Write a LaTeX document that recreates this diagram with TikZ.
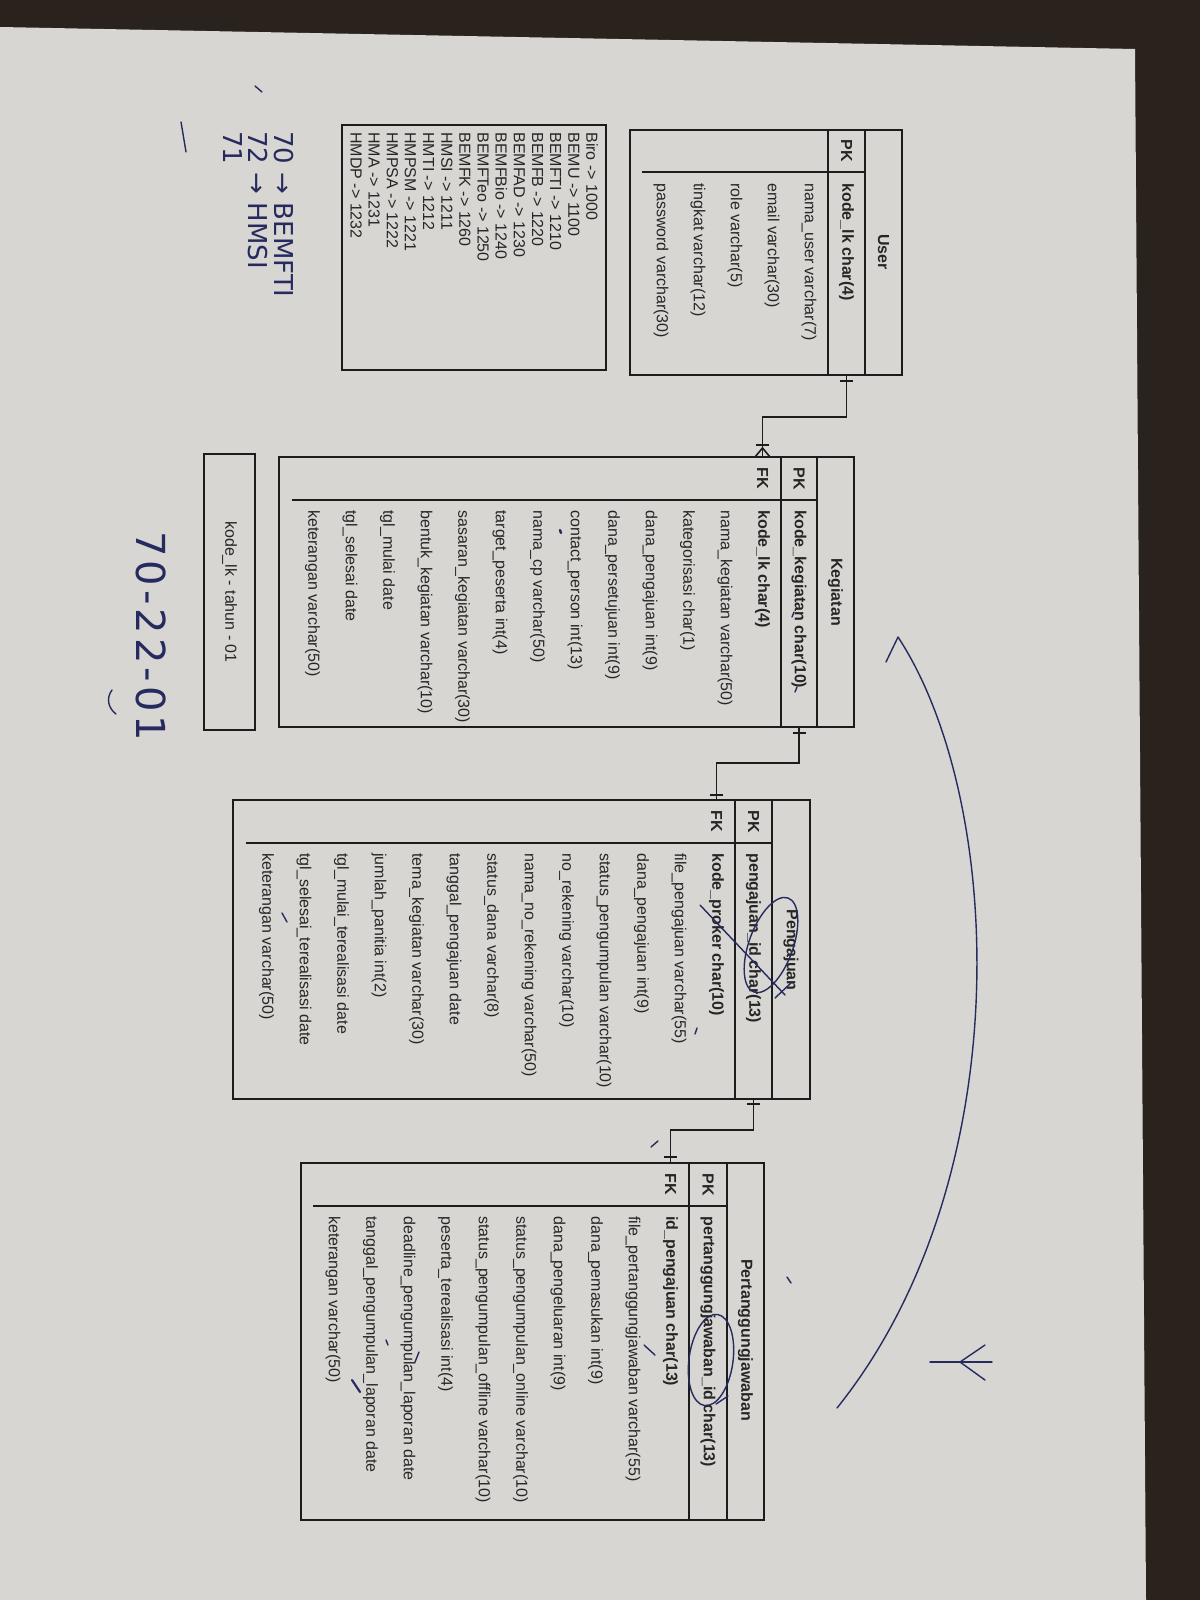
\documentclass[tikz,border=0pt]{standalone}
\usepackage{fontspec}
\setmainfont{Liberation Sans}
\newfontfamily\hand{DejaVu Sans}
\newfontfamily\handwide[LetterSpace=10]{DejaVu Sans}
\usetikzlibrary{fit}
\definecolor{paper}{HTML}{D7D6D3}
\definecolor{darkbg}{HTML}{2A221D}
\definecolor{ink}{HTML}{262626}
\definecolor{rule}{HTML}{1C1C1C}
\definecolor{pen}{HTML}{262A5E}
\tikzset{
  attr/.style={rotate=-90, anchor=west, inner sep=0pt, text=ink, font=\fontsize{8}{9}\selectfont},
  keyattr/.style={attr, font=\fontsize{8}{9}\selectfont\bfseries},
  keylbl/.style={rotate=-90, anchor=center, inner sep=0pt, text=ink, font=\fontsize{8}{9}\selectfont\bfseries},
  hdr/.style={keylbl},
  tbox/.style={draw=rule, line width=0.8pt, inner sep=0pt},
  rl/.style={draw=rule, line width=0.8pt},
  conn/.style={draw=rule, line width=0.8pt},
  hw/.style={rotate=-90, anchor=west, inner sep=0pt, text=pen, font=\hand\fontsize{13}{14}\selectfont},
  inkstroke/.style={draw=pen, line width=0.7pt, line cap=round, line join=round},
}
\begin{document}
\begin{tikzpicture}[x=0.5pt,y=-0.5pt]
\fill[darkbg] (0,0) rectangle (1200,1600);
\fill[paper] (0,27) -- (1135,49) -- (1146,1600) -- (0,1600) -- cycle;
\useasboundingbox (0,0) rectangle (1200,1600);

% ---------- User ----------
\coordinate (uTL) at (630,130); \coordinate (uBR) at (902,375);
\node[tbox, fit=(uTL)(uBR)] (user) {};
\draw[rl] (865,130) -- (865,375);
\draw[rl] (828,130) -- (828,375);
\draw[rl] (642,172) -- (865,172);
\node[hdr] (userH) at (883.5,252) {User};
\node[keylbl] (userPKl) at (846.5,151) {PK};
\node[keyattr] (userPK) at (846.5,183) {kode\_lk char(4)};
\foreach \t [count=\i from 0] in {nama\_user varchar(7), email varchar(30), role varchar(5), tingkat varchar(12), password varchar(30)}{
  \pgfmathsetmacro\xx{809-37*\i}
  \node[attr] (userA\i) at (\xx,183) {\t};
}

% ---------- Notes ----------
\coordinate (nTL) at (342,125); \coordinate (nBR) at (606,370);
\node[tbox, fit=(nTL)(nBR)] (notes) {};
\foreach \t [count=\i from 0] in {Biro -> 1000, BEMU -> 1100, BEMFTI -> 1210, BEMFB -> 1220, BEMFAD -> 1230, BEMFBio -> 1240, BEMFTeo -> 1250, BEMFK -> 1260, HMSI -> 1211, HMTI -> 1212, HMPSM -> 1221, HMPSA -> 1222, HMA -> 1231, HMDP -> 1232}{
  \pgfmathsetmacro\xx{592-18.15*\i}
  \node[attr] (note\i) at (\xx,132) {\t};
}

% ---------- Kegiatan ----------
\coordinate (kTL) at (279,457); \coordinate (kBR) at (854,727);
\node[tbox, fit=(kTL)(kBR)] (keg) {};
\draw[rl] (817,457) -- (817,727);
\draw[rl] (781,457) -- (781,727);
\draw[rl] (292,500) -- (817,500);
\node[hdr] (kegH) at (835.5,592) {Kegiatan};
\node[keylbl] (kegPKl) at (799,478.5) {PK};
\node[keylbl] (kegFKl) at (762.5,478.5) {FK};
\node[keyattr] (kegPK) at (799,510) {kode\_kegiatan char(10)};
\node[keyattr] (kegFK) at (762.5,510) {kode\_lk char(4)};
\foreach \t [count=\i from 0] in {nama\_kegiatan varchar(50), kategorisasi char(1), dana\_pengajuan int(9), dana\_persetujuan int(9), contact\_person int(13), nama\_cp varchar(50), target\_peserta int(4), sasaran\_kegiatan varchar(30), bentuk\_kegiatan varchar(10), tgl\_mulai date, tgl\_selesai date, keterangan varchar(50)}{
  \pgfmathsetmacro\xx{725-37.5*\i}
  \node[attr] (kegA\i) at (\xx,510) {\t};
}

% ---------- kode box ----------
\coordinate (bTL) at (204,454); \coordinate (bBR) at (255,730);
\node[tbox, fit=(bTL)(bBR)] (kode) {};
\node[attr, anchor=center] (kodeT) at (229.5,592) {kode\_lk - tahun - 01};

% ---------- Pengajuan ----------
\coordinate (pTL) at (233,800); \coordinate (pBR) at (810,1099);
\node[tbox, fit=(pTL)(pBR)] (peng) {};
\draw[rl] (772,800) -- (772,1099);
\draw[rl] (735,800) -- (735,1099);
\draw[rl] (246,843) -- (772,843);
\node[hdr] (pengH) at (791,950) {Pengajuan};
\node[keylbl] (pengPKl) at (753.5,821.5) {PK};
\node[keylbl] (pengFKl) at (716.5,821.5) {FK};
\node[keyattr] (pengPK) at (753.5,853) {pengajuan\_id char(13)};
\node[keyattr] (pengFK) at (716.5,853) {kode\_proker char(10)};
\foreach \t [count=\i from 0] in {file\_pengajuan varchar(55), dana\_pengajuan int(9), status\_pengumpulan varchar(10), no\_rekening varchar(10), nama\_no\_rekening varchar(50), status\_dana varchar(8), tanggal\_pengajuan date, tema\_kegiatan varchar(30), jumlah\_panitia int(2), tgl\_mulai\_terealisasi date, tgl\_selesai\_terealisasi date, keterangan varchar(50)}{
  \pgfmathsetmacro\xx{679-37.5*\i}
  \node[attr] (pengA\i) at (\xx,853) {\t};
}

% ---------- Pertanggungjawaban ----------
\coordinate (tTL) at (301,1163); \coordinate (tBR) at (764,1520);
\node[tbox, fit=(tTL)(tBR)] (ptj) {};
\draw[rl] (727,1163) -- (727,1520);
\draw[rl] (689,1163) -- (689,1520);
\draw[rl] (313,1206) -- (727,1206);
\node[hdr] (ptjH) at (745.5,1340) {Pertanggungjawaban};
\node[keylbl] (ptjPKl) at (708,1184.5) {PK};
\node[keylbl] (ptjFKl) at (670.5,1184.5) {FK};
\node[keyattr] (ptjPK) at (708,1216) {pertanggungjawaban\_id char(13)};
\node[keyattr] (ptjFK) at (670.5,1216) {id\_pengajuan char(13)};
\foreach \t [count=\i from 0] in {file\_pertanggungjawaban varchar(55), dana\_pemasukan int(9), dana\_pengeluaran int(9), status\_pengumpulan\_online varchar(10), status\_pengumpulan\_offline varchar(10), peserta\_terealisasi int(4), deadline\_pengumpulan\_laporan date, tanggal\_pengumpulan\_laporan date, keterangan varchar(50)}{
  \pgfmathsetmacro\xx{633-37.5*\i}
  \node[attr] (ptjA\i) at (\xx,1216) {\t};
}

% ---------- Connectors ----------
\coordinate (c1a) at (846.5,375);
\coordinate (c1b) at (762.5,457);
\draw[conn] (c1a) -- ++(0,42) -| (c1b);
\draw[conn] (840,381) -- (853,381);
\draw[conn] (755,457) -- (762.5,448) -- (770,457);
\draw[conn] (756,445) -- (769,445);

\coordinate (c2a) at (799,727);
\coordinate (c2b) at (716.5,800);
\draw[conn] (c2a) -- ++(0,36) -| (c2b);
\draw[conn] (792.5,733) -- (805.5,733);
\draw[conn] (710,795) -- (723,795);

\coordinate (c3a) at (753.5,1099);
\coordinate (c3b) at (670.5,1163);
\draw[conn] (c3a) -- ++(0,31) -| (c3b);
\draw[conn] (747,1104) -- (760,1104);
\draw[conn] (664,1157) -- (677,1157);

% ---------- Handwriting ----------
\node[hw] (hw1) at (284,131) {70 → BEMFTI};
\node[hw] (hw2) at (258,131) {72 → HMSI};
\node[hw] (hw3) at (233,131) {71};
\node[hw, font=\handwide\fontsize{20}{22}\selectfont] (hw4) at (151,531) {70-22-01};
\draw[inkstroke] (112,690) .. controls (106,698) and (108,708) .. (116,714);
\draw[inkstroke] (181,122) -- (186,152);
\draw[inkstroke] (255,86) -- (262,92);

% big arc
\draw[inkstroke] (886,662) -- (898,637) .. controls (1005,800) and (1020,1180) .. (837,1408);

% ellipses and scribbles
\draw[inkstroke] (771,945) ellipse [x radius=11pt, y radius=25pt, rotate=-20];
\draw[inkstroke] (700,905) -- (785,995);
\draw[inkstroke] (775,998) -- (792,982);
\draw[inkstroke] (711,1360) ellipse [x radius=11pt, y radius=23pt, rotate=-8];
\draw[inkstroke] (716,1404) -- (728,1396);
\draw[inkstroke] (985,1345) -- (960,1362) -- (985,1380);
\draw[inkstroke] (930,1362) -- (992,1362);
% small marks
\draw[inkstroke] (651,1147) -- (658,1141);
\draw[inkstroke] (787,1277) -- (791,1283);
\draw[inkstroke] (794,612) -- (792,617);
\draw[inkstroke] (797,687) -- (795,692);
\draw[inkstroke, line width=1.2pt] (560,530) -- (561,533);
\draw[inkstroke] (697,1028) -- (695,1034);
\draw[inkstroke] (282,913) -- (287,922);
\draw[inkstroke] (644,1345) -- (655,1355);
\draw[inkstroke, line width=1.1pt] (352,1380) -- (360,1392);
\draw[inkstroke] (419,1352) -- (415,1362);
\draw[inkstroke] (386,1340) -- (388,1345);
\end{tikzpicture}
\end{document}
